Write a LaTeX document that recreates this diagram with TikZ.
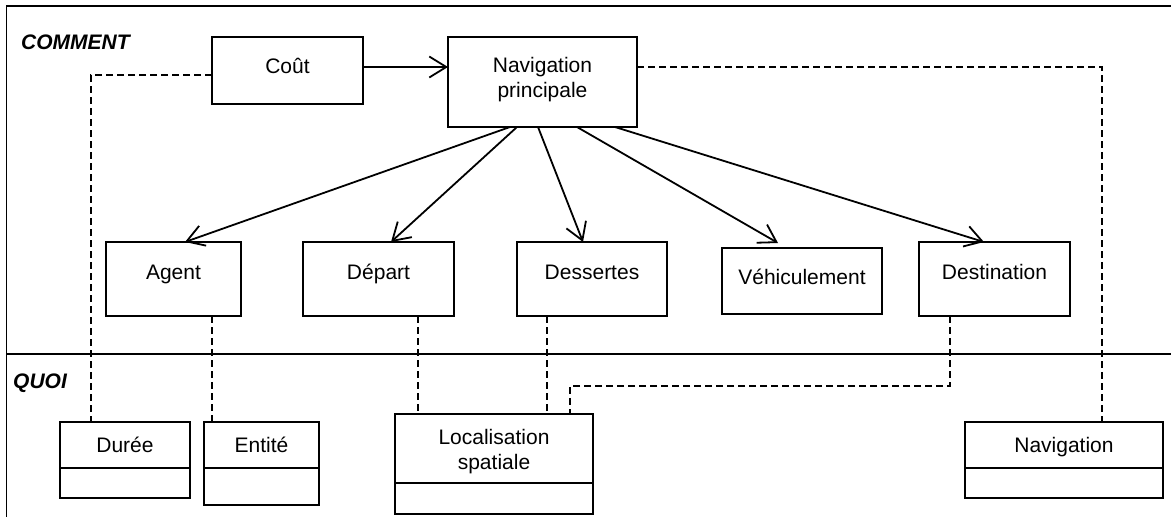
\documentclass[tikz,border=0pt]{standalone}
\usepackage{fontspec}
\setmainfont{Liberation Sans}
\usetikzlibrary{arrows.meta,positioning}

\tikzset{
  box/.style={draw, line width=1.6pt, outer sep=0pt, inner sep=0pt, font=\fontsize{21}{25}\selectfont, text height=15pt, text depth=#1},
  box/.default=15pt,
  ops/.style={draw, line width=1.6pt, outer sep=0pt, inner sep=0pt},
  lane/.style={anchor=base west, inner sep=0pt, font=\fontsize{21}{25}\selectfont\bfseries\itshape},
  link/.style={line width=1.8pt, -{Straight Barb[length=17pt,width=21pt]}},
  trace/.style={line width=1.3pt, dash pattern=on 7pt off 4pt},
  frame/.style={line width=1.4pt}
}

\begin{document}
\begin{tikzpicture}[x=1pt,y=-1pt]
\path[use as bounding box] (0,0) rectangle (1171,517);
\draw[frame] (1171,6) -- (6.5,6) -- (6.5,517);
\draw[frame] (6.5,354) -- (1171,354);
\node[lane] (comment) at (21,49) {COMMENT};
\node[lane] (quoi) at (13,388) {QUOI};
\node[box=10pt, minimum width=151pt, minimum height=67pt] (cout) at (287.5,70.5) {Coût};
\node[box=10pt, text height=40pt, align=center, minimum width=189pt, minimum height=90pt] (navp) at (542.5,82) {Navigation\\principale};
\node[box, minimum width=135pt, minimum height=74pt] (agent) at (173.5,279) {Agent};
\node[box, minimum width=151pt, minimum height=74pt] (depart) at (378.5,279) {Départ};
\node[box, minimum width=150pt, minimum height=74pt] (dessertes) at (592,279) {Dessertes};
\node[box=9pt, minimum width=160pt, minimum height=66pt] (vehic) at (802,281) {Véhiculement};
\node[box, minimum width=151pt, minimum height=74pt] (dest) at (994.5,279) {Destination};
\node[box=1pt, minimum width=130pt, minimum height=46pt] (duree) at (125,445) {Durée};
\node[ops, below=0pt of duree, minimum width=130pt, minimum height=30pt] (duree-ops) {};
\node[box=1pt, minimum width=115pt, minimum height=46pt] (entite) at (261.5,445) {Entité};
\node[ops, below=0pt of entite, minimum width=115pt, minimum height=37pt] (entite-ops) {};
\node[box=4pt, text height=45pt, align=center, minimum width=198pt, minimum height=69pt] (loc) at (494,448.5) {Localisation\\spatiale};
\node[ops, below=0pt of loc, minimum width=198pt, minimum height=31pt] (loc-ops) {};
\node[box=1pt, minimum width=198pt, minimum height=46pt] (navig) at (1064,445) {Navigation};
\node[ops, below=0pt of navig, minimum width=198pt, minimum height=30pt] (navig-ops) {};
\coordinate (cout-out) at ([yshift=3.5pt]cout.east);
\draw[link] (cout-out) -- (cout-out -| navp.west);
\draw[link] ([xshift=-32.5pt]navp.south) -- ([xshift=11.5pt]agent.north);
\draw[link] ([xshift=-25.5pt]navp.south) -- ([xshift=12.5pt]depart.north);
\draw[link] ([xshift=-4.5pt]navp.south) -- ([xshift=-9pt]dessertes.north);
\draw[link] ([xshift=34.5pt]navp.south) -- ([xshift=-24pt,yshift=5pt]vehic.north);
\draw[link] ([xshift=72.5pt]navp.south) -- ([xshift=-10.5pt]dest.north);
\draw[trace] ([yshift=-4.5pt]cout.west) -| ([xshift=-34pt]duree.north);
\draw[trace] ([xshift=38.5pt]agent.south) -- ([xshift=38.5pt]agent.south |- entite.north);
\draw[trace] ([xshift=39.5pt]depart.south) -- ([xshift=39.5pt]depart.south |- loc.north);
\draw[trace] ([xshift=-45pt]dessertes.south) -- ([xshift=-45pt]dessertes.south |- loc.north);
\draw[trace] ([xshift=-44.5pt]dest.south) -- ++(0,70) -| ([xshift=76pt]loc.north);
\draw[trace] ([yshift=15pt]navp.east) -| ([xshift=38pt]navig.north);
\end{tikzpicture}
\end{document}
